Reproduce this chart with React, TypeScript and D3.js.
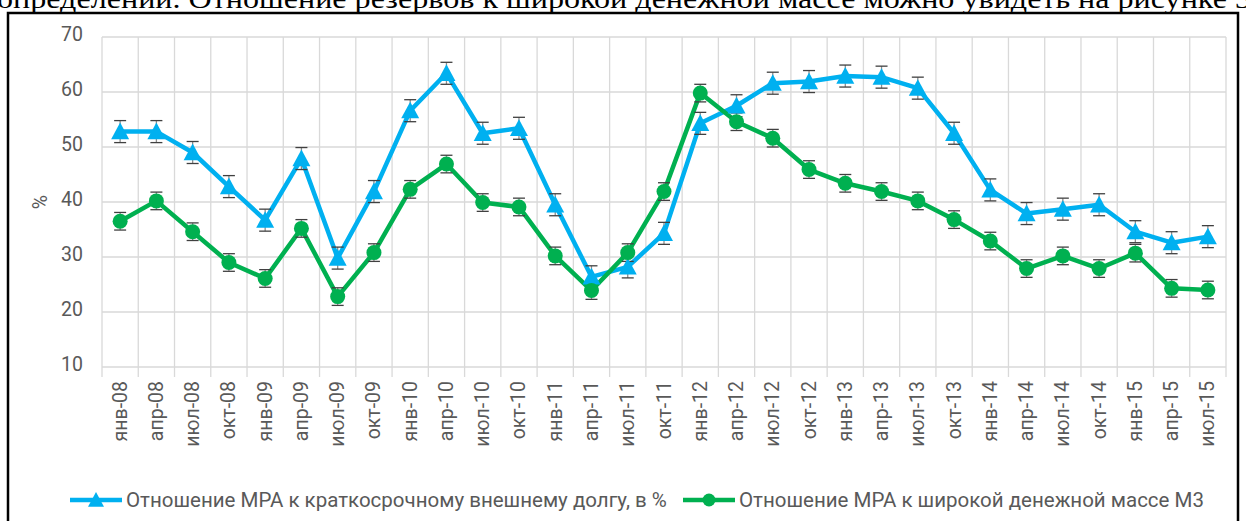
import * as d3 from "d3";

const categories = [
  "янв-08", "апр-08", "июл-08", "окт-08",
  "янв-09", "апр-09", "июл-09", "окт-09",
  "янв-10", "апр-10", "июл-10", "окт-10",
  "янв-11", "апр-11", "июл-11", "окт-11",
  "янв-12", "апр-12", "июл-12", "окт-12",
  "янв-13", "апр-13", "июл-13", "окт-13",
  "янв-14", "апр-14", "июл-14", "окт-14",
  "янв-15", "апр-15", "июл-15",
];

// Отношение МРА к краткосрочному внешнему долгу, в %
const debtRatio = [
  52.8, 52.8, 49.0, 42.8, 36.7, 47.9, 29.8, 41.9, 56.6, 63.4, 52.5, 53.4,
  39.5, 26.4, 28.2, 34.3, 54.3, 57.5, 61.6, 61.9, 62.9, 62.7, 60.7, 52.5,
  42.2, 37.9, 38.7, 39.5, 34.6, 32.6, 33.7,
];

// Отношение МРА к широкой денежной массе М3
const m3Ratio = [
  36.5, 40.2, 34.6, 29.0, 26.1, 35.2, 22.8, 30.8, 42.3, 46.9, 39.9, 39.1,
  30.2, 23.9, 30.8, 41.9, 59.8, 54.6, 51.6, 45.9, 43.4, 41.9, 40.2, 36.8,
  32.9, 27.9, 30.2, 27.9, 30.7, 24.3, 24.0,
];

// error bar half-heights as seen on the picture
const debtErr = 2.0;
const m3Err = 1.6;

const yTicks = [10, 20, 30, 40, 50, 60, 70];

const seriesNames = [
  "Отношение МРА к краткосрочному внешнему долгу, в %",
  "Отношение МРА к широкой денежной массе М3",
];

const W = 1246;
const H = 521;
const BLUE = "#00b0f0";
const GREEN = "#00b050";
const TEXT = "#595959";
const GRID = "#d9d9d9";
const FONT = "Roboto, 'Liberation Sans', sans-serif";

export default function App() {
  const plot = { left: 102, right: 1226, top: 37, bottom: 367 };

  const x = d3.scaleBand<string>().domain(categories).range([plot.left, plot.right]);
  const y = d3.scaleLinear().domain([10, 70]).range([plot.bottom, plot.top]);
  const cx = (c: string) => (x(c) ?? 0) + x.bandwidth() / 2;

  const line = d3.line<number>()
    .x((_, i) => cx(categories[i]))
    .y((d) => y(d));

  const triangle = (px: number, py: number, s = 9) =>
    `M${px},${py - s} L${px + s},${py + s * 0.85} L${px - s},${py + s * 0.85} Z`;

  const errBars = (vals: number[], err: number) =>
    vals.map((v, i) => {
      const px = cx(categories[i]);
      return (
        <g key={i} stroke="#404040" strokeWidth={1.3}>
          <line x1={px} x2={px} y1={y(v + err)} y2={y(v - err)} stroke="#8c8c8c" />
          <line x1={px - 6} x2={px + 6} y1={y(v + err)} y2={y(v + err)} />
          <line x1={px - 6} x2={px + 6} y1={y(v - err)} y2={y(v - err)} />
        </g>
      );
    });

  const bounds = [...categories.map((c) => x(c) ?? 0), plot.right];

  return (
    <svg
      width={W}
      height={H}
      style={{ position: "absolute", left: 0, top: 0, background: "#fff" }}
    >
      {/* text of the page above the figure */}
      <text
        x={-3}
        y={8}
        fontFamily="'Liberation Serif', 'Times New Roman', serif"
        fontSize={27}
        fill="#000"
        textLength={1262}
        lengthAdjust="spacingAndGlyphs"
      >
        определений. Отношение резервов к широкой денежной массе можно увидеть на рисунке 3.
      </text>

      {/* frame */}
      <path d={`M8,${H + 2} L8,13 L1238,13 L1238,${H + 2}`} fill="none" stroke="#000" strokeWidth={2.5} />

      {/* grid */}
      {yTicks.map((t) => (
        <line key={t} x1={plot.left} x2={plot.right} y1={y(t)} y2={y(t)} stroke={GRID} strokeWidth={1.3} />
      ))}
      {bounds.map((bx, i) => (
        <line key={i} x1={bx} x2={bx} y1={plot.top} y2={plot.bottom + 10} stroke={GRID} strokeWidth={1.3} />
      ))}

      {/* y axis labels */}
      {yTicks.map((t) => (
        <text
          key={t}
          x={83}
          y={y(t) - 3}
          textAnchor="end"
          dominantBaseline="central"
          fontFamily={FONT}
          fontSize={19.5}
          fill={TEXT}
        >
          {t}
        </text>
      ))}
      <text
        transform={`translate(40,${y(40)}) rotate(-90)`}
        textAnchor="middle"
        dominantBaseline="central"
        fontFamily={FONT}
        fontSize={19.5}
        fill={TEXT}
      >
        %
      </text>

      {/* x labels */}
      {categories.map((c) => (
        <text
          key={c}
          transform={`translate(${cx(c)},${plot.bottom + 14}) rotate(-90)`}
          textAnchor="end"
          dominantBaseline="central"
          fontFamily={FONT}
          fontSize={19.5}
          fill={TEXT}
        >
          {c}
        </text>
      ))}

      {/* series lines */}
      <path d={line(debtRatio) ?? ""} fill="none" stroke={BLUE} strokeWidth={4.5} strokeLinejoin="round" />
      <path d={line(m3Ratio) ?? ""} fill="none" stroke={GREEN} strokeWidth={4.5} strokeLinejoin="round" />

      {errBars(debtRatio, debtErr)}
      {errBars(m3Ratio, m3Err)}

      {debtRatio.map((v, i) => (
        <path key={i} d={triangle(cx(categories[i]), y(v))} fill={BLUE} />
      ))}
      {m3Ratio.map((v, i) => (
        <circle key={i} cx={cx(categories[i])} cy={y(v)} r={7.5} fill={GREEN} />
      ))}

      {/* legend */}
      <g>
        <line x1={70} x2={122} y1={500} y2={500} stroke={BLUE} strokeWidth={4.5} />
        <path d={triangle(96, 500, 8)} fill={BLUE} />
        <text x={126} y={500} dominantBaseline="central" fontFamily={FONT} fontSize={20.5} fill={TEXT}>
          {seriesNames[0]}
        </text>
        <line x1={683} x2={735} y1={500} y2={500} stroke={GREEN} strokeWidth={4.5} />
        <circle cx={709} cy={500} r={6.5} fill={GREEN} />
        <text x={739} y={500} dominantBaseline="central" fontFamily={FONT} fontSize={20.5} fill={TEXT}>
          {seriesNames[1]}
        </text>
      </g>
    </svg>
  );
}
